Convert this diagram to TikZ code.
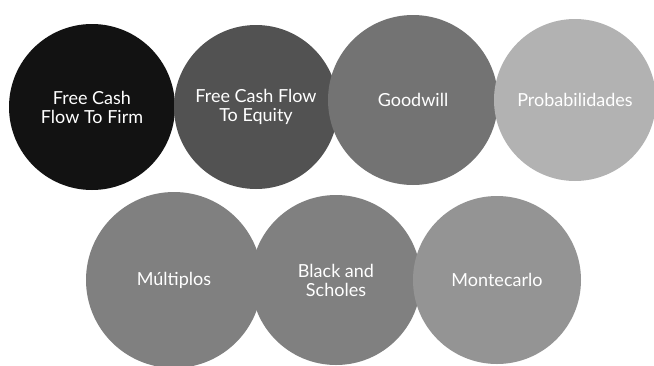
\documentclass[tikz,border=0pt]{standalone}
\usepackage{fontspec}
\setmainfont{Lato}
\begin{document}
\begin{tikzpicture}[x=1pt,y=-1pt,
  bubble/.style={circle,inner sep=0pt,minimum size=#1,text=white,align=center,
    font=\fontsize{18}{19}\selectfont},
  bubble/.default=166pt]
\useasboundingbox (0,0) rectangle (654,365);
\node[bubble=166pt,fill=black!93] (fcff) at (92,107) {Free Cash\\Flow To Firm};
\node[bubble=164pt,fill=black!68] (fcfe) at (256,107) {Free Cash Flow\\To Equity};
\node[bubble=170pt,fill=black!55] (gw) at (413,100) {Goodwill};
\node[bubble=162pt,fill=black!30] (prob) at (575,100) {Probabilidades};
\node[bubble=176pt,fill=black!50] (mult) at (174,280) {Múltiplos};
\node[bubble=170pt,fill=black!50] (bs) at (336,280) {Black and\\Scholes};
\node[bubble=168pt,fill=black!42] (mc) at (497,280) {Montecarlo};
\end{tikzpicture}
\end{document}
